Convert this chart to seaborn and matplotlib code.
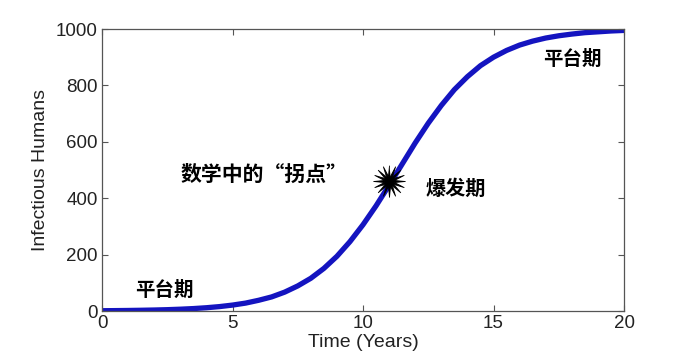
import numpy as np
import pandas as pd
import seaborn as sns
import matplotlib.pyplot as plt

# Values (half-year steps)
years = [0, 0.5, 1, 1.5, 2, 2.5, 3, 3.5, 4, 4.5, 5, 5.5, 6, 6.5, 7, 7.5, 8, 8.5, 9, 9.5,
         10, 10.5, 11, 11.5, 12, 12.5, 13, 13.5, 14, 14.5, 15, 15.5, 16, 16.5, 17, 17.5,
         18, 18.5, 19, 19.5, 20]
infected = [1, 1.4, 1.9, 2.6, 3.5, 4.7, 6.4, 8.6, 11.6, 15.6, 21, 28, 38, 50, 67, 89,
            116, 151, 194, 246, 306, 373, 446, 521, 596, 666, 729, 785, 831, 870, 900,
            924, 943, 957, 968, 976, 982, 987, 990, 993, 995]

inflection_t = [11.0]
inflection_v = [462]

labels = ["数学中的“拐点”", "爆发期", "平台期", "平台期"]
label_t = [3.0, 12.38, 16.9, 1.26]
label_v = [486, 433, 894, 72]
label_size = [15, 14.5, 14, 14]

df = pd.DataFrame({"t": years, "v": infected})
star = pd.DataFrame({"t": inflection_t, "v": inflection_v})

# thin-spiked star marker shape (unit marker outline, not data)
n_spikes = 16
ang = np.linspace(0, 2 * np.pi, 2 * n_spikes, endpoint=False) + np.pi / 2
rad = np.where(np.arange(2 * n_spikes) % 2 == 0, 1.0, 0.33)
star_verts = list(zip(rad * np.cos(ang), rad * np.sin(ang)))

sns.set_theme(style="ticks")
plt.rcParams["font.family"] = ["Liberation Sans", "DejaVu Sans"]
plt.rcParams["xtick.direction"] = "in"
plt.rcParams["ytick.direction"] = "in"

fig = plt.figure(figsize=(6.73, 3.59), dpi=100)
ax = fig.add_axes([0.1516, 0.1337, 0.7756, 0.7855])

sns.lineplot(data=df, x="t", y="v", color="#1414c0", linewidth=3.8, ax=ax)
sns.scatterplot(data=star, x="t", y="v", marker=star_verts, s=520, color="black",
                edgecolor="black", linewidth=0.6, zorder=5, ax=ax)

for txt, tx, ty, fs in zip(labels, label_t, label_v, label_size):
    ax.text(tx, ty, txt, fontsize=fs, fontweight="heavy", va="center", ha="left",
            family=["Noto Sans CJK SC", "DejaVu Sans"], color="black")

ax.set_xlim(0, 20)
ax.set_ylim(0, 1000)
ax.set_xticks([0, 5, 10, 15, 20])
ax.set_yticks([0, 200, 400, 600, 800, 1000])
ax.tick_params(axis="both", labelsize=13.5, length=4, width=0.8, color="#555555",
               labelcolor="#222222", top=True, right=True, pad=3)
for sp in ax.spines.values():
    sp.set_visible(True)
    sp.set_color("#555555")
    sp.set_linewidth(0.9)

ax.set_xlabel("Time (Years)", fontsize=14, color="#222222", labelpad=1)
ax.set_ylabel("Infectious Humans", fontsize=14, color="#222222", labelpad=5)

plt.savefig("out.png", dpi=100)
